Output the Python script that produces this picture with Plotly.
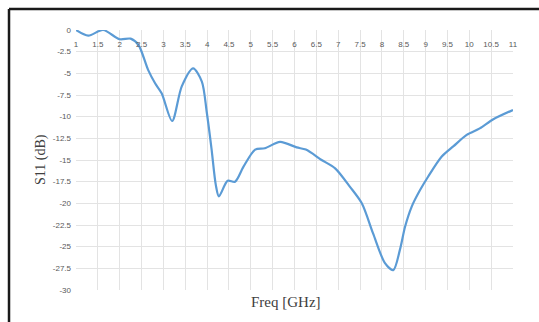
import plotly.graph_objects as go

freq_ghz = [1.0, 1.28, 1.62, 2.0, 2.25, 2.43, 2.65, 2.81, 2.96, 3.2, 3.42, 3.68, 3.88,
            3.99, 4.1, 4.2, 4.27, 4.47, 4.64, 4.83, 5.1, 5.32, 5.67, 6.05, 6.26, 6.62, 6.93,
            7.27, 7.54, 7.8, 8.07, 8.26, 8.41, 8.53, 8.68, 8.87, 9.06, 9.37, 9.64, 9.94,
            10.24, 10.55, 11.0]
s11_db = [0.0, -0.65, 0.0, -1.07, -1.0, -1.73, -4.6, -6.15, -7.3, -10.5, -6.5, -4.42, -5.96,
          -9.4, -13.65, -17.9, -19.2, -17.4, -17.5, -15.8, -13.8, -13.65, -12.9, -13.55, -13.8,
          -15.0, -15.96, -18.1, -20.0, -23.5, -26.9, -27.7, -25.4, -22.7, -20.4, -18.5, -16.9,
          -14.6, -13.4, -12.1, -11.35, -10.3, -9.23]

x_ticks = [1, 1.5, 2, 2.5, 3, 3.5, 4, 4.5, 5, 5.5, 6, 6.5, 7, 7.5, 8, 8.5, 9, 9.5, 10, 10.5, 11]
x_tick_labels = ["1", "1.5", "2", "2.5", "3", "3.5", "4", "4.5", "5", "5.5", "6", "6.5",
                 "7", "7.5", "8", "8.5", "9", "9.5", "10", "10.5", "11"]
y_ticks = [0, -2.5, -5, -7.5, -10, -12.5, -15, -17.5, -20, -22.5, -25, -27.5, -30]
y_tick_labels = ["0", "-2.5", "-5", "-7.5", "-10", "-12.5", "-15", "-17.5", "-20",
                 "-22.5", "-25", "-27.5", "-30"]

fig = go.Figure()
fig.add_trace(go.Scatter(
    x=freq_ghz, y=s11_db, mode="lines",
    line=dict(color="#5B9BD5", width=2.2, shape="spline", smoothing=0.8),
    hoverinfo="skip", showlegend=False,
))

tick_font = dict(family="Liberation Sans, Arial, sans-serif", size=8, color="#595959")
serif = "Liberation Serif, Times New Roman, serif"

fig.update_layout(
    width=539, height=322,
    margin=dict(l=76, r=26, t=30, b=32, autoexpand=False),
    paper_bgcolor="white", plot_bgcolor="white",
    xaxis=dict(
        range=[1, 11], tickvals=x_ticks, ticktext=x_tick_labels,
        side="top", ticklabelposition="outside", ticklabelstandoff=-20,
        ticklabeloverflow="allow", tickfont=tick_font,
        showgrid=True, gridcolor="#E3E3E3", gridwidth=1,
        showline=False, zeroline=False, ticks="",
        automargin=False, fixedrange=True,
    ),
    yaxis=dict(
        range=[-30, 0], tickvals=y_ticks, ticktext=y_tick_labels,
        tickfont=tick_font, ticklabelstandoff=4, ticklabeloverflow="allow",
        showgrid=True, gridcolor="#E3E3E3", gridwidth=1,
        showline=False, zeroline=False, ticks="",
        automargin=False, fixedrange=True,
    ),
    annotations=[
        dict(text="Freq [GHz]", xref="paper", yref="paper", x=0.48, y=-0.046,
             xanchor="center", yanchor="middle", showarrow=False,
             font=dict(family=serif, size=15, color="#404040")),
        dict(text="S11 (dB)", xref="paper", yref="paper", x=-0.080, y=0.5,
             xanchor="center", yanchor="middle", showarrow=False, textangle=-90,
             font=dict(family=serif, size=14, color="#404040")),
    ],
    shapes=[
        dict(type="line", xref="paper", yref="paper", x0=-0.1533, x1=1.07, y0=1.0808, y1=1.0808,
             line=dict(color="#1A1A1A", width=2.5)),
        dict(type="line", xref="paper", yref="paper", x0=-0.1533, x1=-0.1533, y0=1.0808, y1=-0.13,
             line=dict(color="#1A1A1A", width=2.5)),
    ],
)

fig.write_html("out.html", config={"displayModeBar": False},
               post_script="document.body.style.margin='0';")
